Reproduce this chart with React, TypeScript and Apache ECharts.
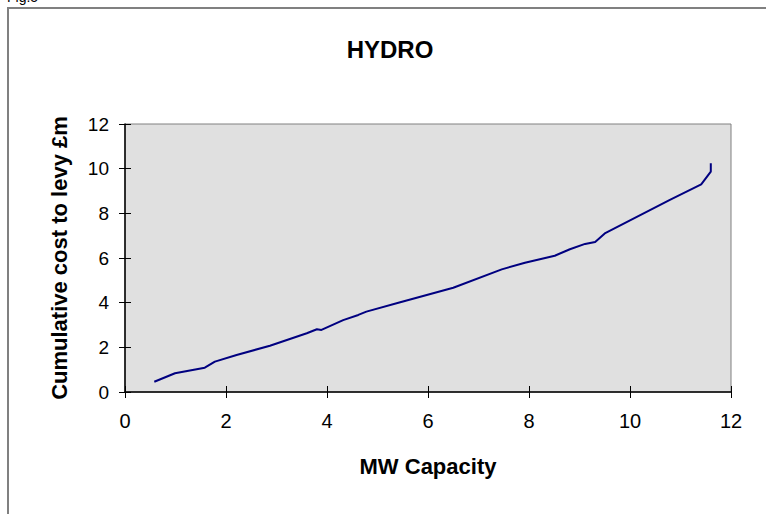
import React, { useEffect, useRef } from "react";
import * as echarts from "echarts";

const capacityMW = [0.58, 0.99, 1.58, 1.78, 2.21, 2.87, 3.6, 3.8, 3.89, 4.32, 4.62, 4.78, 5.45, 6.5, 7.46, 7.92, 8.51, 8.81, 9.11, 9.31, 9.5, 10.79, 11.41, 11.6, 11.6];
const cumulativeCost = [0.46, 0.84, 1.09, 1.36, 1.66, 2.07, 2.63, 2.81, 2.78, 3.22, 3.45, 3.6, 4.02, 4.67, 5.49, 5.79, 6.1, 6.39, 6.63, 6.72, 7.1, 8.6, 9.3, 9.87, 10.24];

const chartTitle = "HYDRO";
const xAxisName = "MW Capacity";
const yAxisName = "Cumulative cost to levy £m";
const figLabel = "Fig.5";

const FONT = "'Liberation Sans', Arial, sans-serif";

export default function App() {
  const ref = useRef<HTMLDivElement>(null);
  useEffect(() => {
    document.body.style.margin = "0";
    const chart = echarts.init(ref.current!, null, { renderer: "svg" });
    const data = capacityMW.map((x, i) => [x, cumulativeCost[i]]);
    const axisCommon = {
      type: "value",
      min: 0,
      max: 12,
      interval: 2,
      splitLine: { show: false },
    };
    chart.setOption({
      animation: false,
      backgroundColor: "#ffffff",
      grid: {
        left: 125,
        top: 124,
        right: 35,
        bottom: 122,
        show: true,
        backgroundColor: "#e0e0e0",
        borderColor: "#808080",
        borderWidth: 1,
      },
      graphic: [
        {
          type: "rect",
          shape: { x: 8, y: 8, width: 800, height: 600 },
          style: { fill: "none", stroke: "#808080", lineWidth: 2 },
          silent: true,
        },
        {
          type: "text",
          x: 7,
          y: 4,
          style: {
            text: figLabel,
            font: `14px ${FONT}`,
            fill: "#000",
            textAlign: "left",
            textVerticalAlign: "bottom",
          },
        },
        {
          type: "text",
          x: 390,
          y: 49,
          style: {
            text: chartTitle,
            font: `bold 24px ${FONT}`,
            fill: "#000",
            textAlign: "center",
            textVerticalAlign: "middle",
          },
        },
      ],
      xAxis: [
        {
          ...axisCommon,
          position: "bottom",
          name: xAxisName,
          nameLocation: "middle",
          nameGap: 63,
          nameTextStyle: { fontFamily: FONT, fontSize: 22, fontWeight: "bold", color: "#000" },
          axisLine: { show: true, lineStyle: { color: "#000", width: 1.5 } },
          axisTick: { show: true, length: 6, lineStyle: { color: "#000" } },
          axisLabel: { fontFamily: FONT, fontSize: 20, color: "#000", margin: 19 },
        },
        {
          ...axisCommon,
          position: "bottom",
          axisLine: { show: false },
          axisTick: { show: true, inside: true, length: 6, lineStyle: { color: "#000" } },
          axisLabel: { show: false },
        },
      ],
      yAxis: [
        {
          ...axisCommon,
          position: "left",
          name: yAxisName,
          nameLocation: "middle",
          nameGap: 55,
          nameTextStyle: { fontFamily: FONT, fontSize: 22, fontWeight: "bold", color: "#000" },
          axisLine: { show: true, lineStyle: { color: "#000", width: 1.5 } },
          axisTick: { show: true, length: 6, lineStyle: { color: "#000" } },
          axisLabel: { fontFamily: FONT, fontSize: 19, color: "#000", margin: 16 },
        },
        {
          ...axisCommon,
          position: "left",
          axisLine: { show: false },
          axisTick: { show: true, inside: true, length: 6, lineStyle: { color: "#000" } },
          axisLabel: { show: false },
        },
      ],
      series: [
        {
          type: "line",
          data,
          xAxisIndex: 0,
          yAxisIndex: 0,
          showSymbol: false,
          symbol: "none",
          lineStyle: { color: "#000080", width: 2 },
        },
      ],
    });
    return () => chart.dispose();
  }, []);
  return <div ref={ref} style={{ width: 766, height: 514 }} />;
}
